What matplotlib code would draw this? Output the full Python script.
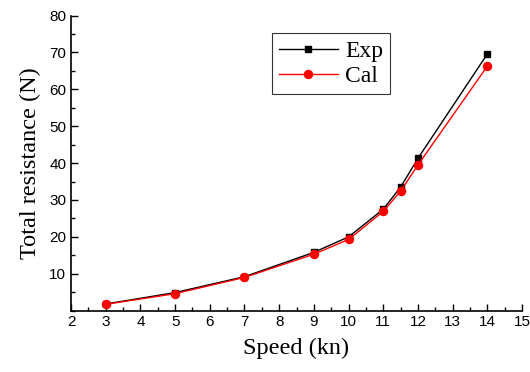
import matplotlib
matplotlib.use('Agg')
import matplotlib.pyplot as plt
from matplotlib.ticker import MultipleLocator

speed = [3, 5, 7, 9, 10, 11, 11.5, 12, 14]
exp_res = [1.8, 4.9, 9.2, 15.8, 20.0, 27.5, 33.5, 41.3, 69.6]
cal_res = [1.7, 4.6, 9.0, 15.3, 19.3, 26.9, 32.4, 39.5, 66.3]

fig = plt.figure(figsize=(5.3, 3.72), dpi=100)
ax = fig.add_axes([0.134, 0.165, 0.851, 0.793])

ax.plot(speed, exp_res, color='black', lw=1, marker='s', ms=5, label='Exp')
ax.plot(speed, cal_res, color='red', lw=1, marker='o', ms=5.8, label='Cal')

ax.set_xlim(2, 15)
ax.set_ylim(0, 80)
ax.xaxis.set_major_locator(MultipleLocator(1))
ax.xaxis.set_minor_locator(MultipleLocator(0.5))
ax.yaxis.set_minor_locator(MultipleLocator(5))
ax.set_yticks([10, 20, 30, 40, 50, 60, 70, 80])
ax.tick_params(which='both', direction='in', top=False, right=False, width=1)
ax.tick_params(which='major', length=5, labelsize=11)
ax.tick_params(which='minor', length=3)
for lab in ax.get_xticklabels() + ax.get_yticklabels():
    lab.set_family('Liberation Sans')
ax.spines['top'].set_visible(False)
ax.spines['right'].set_visible(False)
ax.spines['left'].set_linewidth(1.2)
ax.spines['bottom'].set_linewidth(1.2)

ax.set_xlabel('Speed (kn)', family='Liberation Serif', fontsize=17.5, labelpad=6)
ax.set_ylabel('Total resistance (N)', family='Liberation Serif', fontsize=17.5, labelpad=6)

leg = ax.legend(loc='upper left', bbox_to_anchor=(0.445, 0.94),
                prop={'family': 'Liberation Serif', 'size': 17},
                fancybox=False, edgecolor='black', handlelength=2.5,
                borderpad=0.3, labelspacing=0.15, handletextpad=0.3,
                borderaxespad=0.0)
leg.get_frame().set_linewidth(0.8)

fig.savefig('out.png', dpi=100)
